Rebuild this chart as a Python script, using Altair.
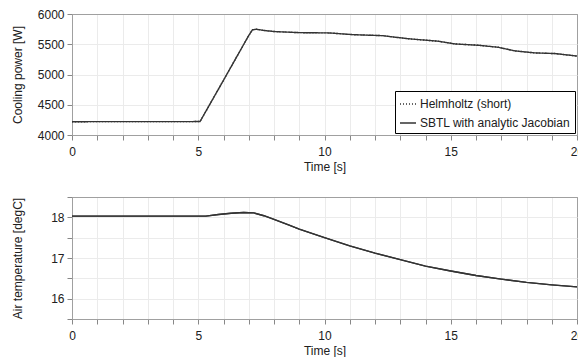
import altair as alt
import pandas as pd

# Cooling power [W] vs time [s]
t_power = [0, 5.07, 5.5, 6.0, 6.5, 7.0, 7.15, 7.3, 7.6, 8.0, 9.0, 10.2, 11.1,
           12.3, 12.7, 13.4, 14.5, 15.17, 16.1, 16.88, 17.54, 18.34, 19.13, 20]
power = [4220, 4222, 4538, 4905, 5275, 5645, 5740, 5748, 5728, 5710, 5692, 5687, 5659,
         5642, 5621, 5588, 5550, 5505, 5483, 5450, 5390, 5357, 5346, 5305]

# Air temperature [degC] vs time [s]
t_temp = [0, 5.3, 5.8, 6.3, 6.8, 7.2, 7.6, 8.0, 8.6, 9.0, 10.0, 11.0, 12.0,
          13.0, 14.0, 15.0, 16.0, 17.0, 18.0, 19.0, 20.0]
temp = [18.03, 18.03, 18.07, 18.10, 18.12, 18.11, 18.04, 17.95, 17.81, 17.71, 17.50,
        17.30, 17.12, 16.96, 16.80, 16.68, 16.57, 16.48, 16.40, 16.34, 16.29]

series = ["Helmholtz (short)", "SBTL with analytic Jacobian"]
x_ticks = list(range(0, 21))
power_ticks = [4000, 4500, 5000, 5500, 6000]
temp_ticks = [15.5, 16, 16.5, 17, 17.5, 18, 18.5]

rows_p = []
rows_t = []
for s in series:
    for t, v in zip(t_power, power):
        rows_p.append({"t": t, "v": v, "series": s})
    for t, v in zip(t_temp, temp):
        rows_t.append({"t": t, "v": v, "series": s})
df_p = pd.DataFrame(rows_p)
df_t = pd.DataFrame(rows_t)

FONT = "Liberation Sans"
LINE = "#333333"
FRAME = "#a0a0a0"
GRID = "#ebebeb"

def grid_color(lo, hi):
    return {"condition": {"test": f"datum.value <= {lo} || datum.value >= {hi}",
                          "value": FRAME},
            "value": GRID}

def x_axis():
    return alt.X(
        "t:Q",
        scale=alt.Scale(domain=[0, 20], nice=False, zero=False),
        axis=alt.Axis(
            values=x_ticks,
            labelExpr="datum.value % 5 === 0 ? datum.label : ''",
            title="Time [s]",
            tickSize=5, labelPadding=6, titlePadding=4,
            labelFlush=False,
            gridColor=grid_color(0, 20),
        ),
    )

color = alt.Color(
    "series:N",
    scale=alt.Scale(domain=series, range=[LINE, LINE]),
    legend=alt.Legend(
        title=None, orient="bottom-right", offset=2,
        strokeColor="black", fillColor="white", padding=4,
        symbolType="stroke", symbolSize=256, symbolStrokeWidth=1.3,
        labelFontSize=12, labelFont=FONT, labelColor="#202020",
        rowPadding=4, labelOffset=3, cornerRadius=0,
    ),
)
dash = alt.StrokeDash(
    "series:N",
    scale=alt.Scale(domain=series, range=[[1, 2], [1, 0]]),
    legend=None,
)

top = alt.Chart(df_p).mark_line(strokeWidth=1.4).encode(
    x=x_axis(),
    y=alt.Y(
        "v:Q",
        scale=alt.Scale(domain=[4000, 6000], nice=False, zero=False),
        axis=alt.Axis(values=power_ticks, title="Cooling power [W]", format="d",
                      tickSize=5, labelPadding=3,
                      titleX=-55, titleY=60.5, titleBaseline="middle",
                      gridColor=grid_color(4000, 6000)),
    ),
    color=color,
    strokeDash=dash,
    order=alt.Order("series:N"),
).properties(width=505, height=121)

bottom = alt.Chart(df_t).mark_line(strokeWidth=1.4, color=LINE).encode(
    x=x_axis(),
    y=alt.Y(
        "v:Q",
        scale=alt.Scale(domain=[15.5, 18.5], nice=False, zero=False),
        axis=alt.Axis(values=temp_ticks,
                      labelExpr="datum.value % 1 === 0 ? format(datum.value, 'd') : ''",
                      title="Air temperature [degC]",
                      tickSize=5, labelPadding=3,
                      titleX=-55, titleY=61, titleBaseline="middle",
                      gridColor=grid_color(15.5, 18.5)),
    ),
    detail="series:N",
).properties(width=505, height=122)

chart = alt.vconcat(top, bottom, spacing=23).resolve_legend(
    color="independent", strokeDash="independent"
).properties(
    padding={"left": 10, "top": 7, "right": -7, "bottom": 0},
    background="white",
).configure_view(
    stroke=FRAME, strokeWidth=1,
).configure_axis(
    domainColor=FRAME, tickColor="#888888",
    labelFont=FONT, titleFont=FONT, labelFontSize=12, titleFontSize=12,
    labelColor="#202020", titleColor="#202020", titleFontWeight="normal",
).configure_concat(spacing=23)

chart.save("out.html", embed_options={"renderer": "svg", "actions": False})
